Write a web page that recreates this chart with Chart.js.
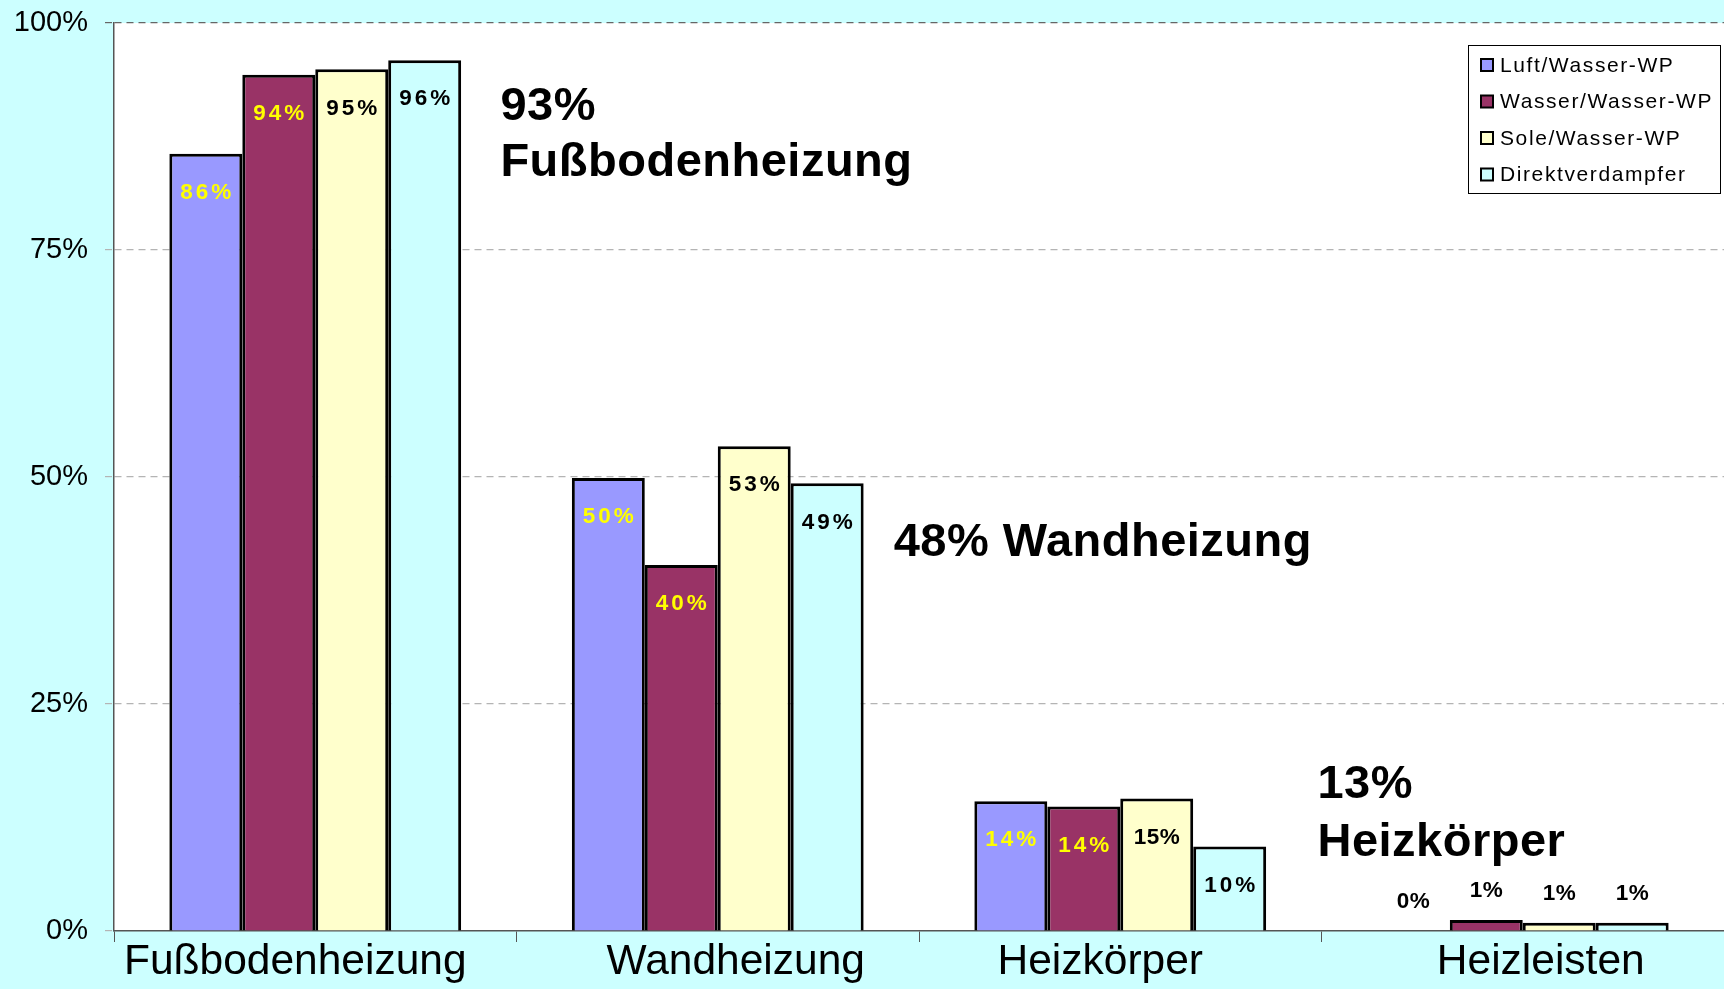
<!DOCTYPE html>
<html>
<head>
<meta charset="utf-8">
<title>Wärmeverteilsysteme</title>
<script src="https://cdn.jsdelivr.net/npm/chart.js@4.4.1/dist/chart.umd.min.js"></script>
<style>
html, body { margin: 0; padding: 0; background: #ccffff; }
canvas { display: block; }
</style>
</head>
<body>
<canvas id="myChart" width="1724" height="989"></canvas>
<script>
// data
const categories = ['Fußbodenheizung', 'Wandheizung', 'Heizkörper', 'Heizleisten'];
const seriesNames = ['Luft/Wasser-WP', 'Wasser/Wasser-WP', 'Sole/Wasser-WP', 'Direktverdampfer'];
const luftWasser   = [85.6, 49.9, 14.3, 0];
const wasserWasser = [94.3, 40.3, 13.7, 1.2];
const soleWasser   = [94.9, 53.4, 14.6, 0.9];
const direkt       = [95.9, 49.3, 9.3, 0.9];
const luftLabels   = ['86%', '50%', '14%', '0%'];
const wasserLabels = ['94%', '40%', '14%', '1%'];
const soleLabels   = ['95%', '53%', '15%', '1%'];
const direktLabels = ['96%', '49%', '10%', '1%'];
const yTicks = [0, 25, 50, 75, 100];

// summary notes: text lines and the value they sit at
const noteTexts = [['93%', 'Fußbodenheizung'], ['48% Wandheizung'], ['13%', 'Heizkörper']];
const noteValues = [[90.7, 84.6], [42.7], [16.1, 9.7]];
const noteCats = [0.46, 1.437, 2.49];
// category labels sit a little off centre in the original
const xLabelShift = [-20, 18, -20, 18];

const barColors = ['#9999ff', '#993366', '#ffffcc', '#ccffff'];
const labelColors = ['#ffff00', '#ffff00', '#000000', '#000000'];
const barLabels = [luftLabels, wasserLabels, soleLabels, direktLabels];
const FONT = '"Liberation Sans", Arial, sans-serif';

const backdrop = {
  id: 'backdrop',
  beforeDraw(chart) {
    const {ctx, chartArea: a} = chart;
    ctx.save();
    ctx.fillStyle = '#ccffff';
    ctx.fillRect(0, 0, chart.width, chart.height);
    ctx.fillStyle = '#ffffff';
    ctx.fillRect(a.left, a.top, a.right - a.left, a.bottom - a.top);
    ctx.restore();
  }
};

const valueLabels = {
  id: 'valueLabels',
  afterDatasetsDraw(chart) {
    const ctx = chart.ctx;
    ctx.save();
    ctx.font = 'bold 22.5px ' + FONT;
    ctx.textAlign = 'center';
    ctx.textBaseline = 'middle';
    chart.data.datasets.forEach((ds, i) => {
      chart.getDatasetMeta(i).data.forEach((bar, j) => {
        const v = ds.data[j];
        const inside = v >= 5;
        const txt = barLabels[i][j];
        const sp = txt.length > 2 && txt !== '15%' ? 3 : 0.5;
        ctx.letterSpacing = sp + 'px';
        ctx.fillStyle = inside ? labelColors[i] : '#000';
        const y = inside ? bar.y + 39 : bar.y - 29;
        ctx.fillText(txt, bar.x + sp / 2, y);
      });
    });
    ctx.restore();
  }
};

const notes = {
  id: 'notes',
  afterDraw(chart) {
    const ctx = chart.ctx;
    const xs = chart.scales.x, ys = chart.scales.y;
    ctx.save();
    ctx.font = 'bold 47px ' + FONT;
    ctx.letterSpacing = '0.5px';
    ctx.fillStyle = '#000';
    ctx.textAlign = 'left';
    ctx.textBaseline = 'middle';
    noteTexts.forEach((lines, i) => {
      const x = xs.getPixelForValue(noteCats[i]);
      lines.forEach((t, k) => ctx.fillText(t, x, ys.getPixelForValue(noteValues[i][k])));
    });
    ctx.restore();
  }
};

const catLabels = {
  id: 'catLabels',
  afterDraw(chart) {
    const ctx = chart.ctx;
    const xs = chart.scales.x;
    ctx.save();
    ctx.font = '42.5px ' + FONT;
    ctx.fillStyle = '#000';
    ctx.textAlign = 'center';
    ctx.textBaseline = 'middle';
    chart.data.labels.forEach((lab, i) => {
      ctx.fillText(lab, xs.getPixelForValue(i) + xLabelShift[i], xs.bottom - 27);
    });
    ctx.restore();
  }
};

const boxLegend = {
  id: 'boxLegend',
  afterDraw(chart) {
    const ctx = chart.ctx;
    const a = chart.chartArea;
    const w = 252, h = 148;
    const left = a.right - w - 4, top = a.top + 22;
    ctx.save();
    ctx.fillStyle = '#fff';
    ctx.fillRect(left, top, w, h);
    ctx.strokeStyle = '#000';
    ctx.lineWidth = 1;
    ctx.strokeRect(left + 0.5, top + 0.5, w, h);
    ctx.font = '21px ' + FONT;
    ctx.letterSpacing = '1.6px';
    ctx.textBaseline = 'middle';
    chart.data.datasets.forEach((ds, i) => {
      const cy = top + 20 + i * 36.5;
      ctx.fillStyle = ds.backgroundColor;
      ctx.fillRect(left + 13, cy - 6, 12, 12);
      ctx.lineWidth = 2;
      ctx.strokeRect(left + 13, cy - 6, 12, 12);
      ctx.fillStyle = '#000';
      ctx.fillText(ds.label, left + 32, cy + 1);
    });
    ctx.restore();
  }
};

const seriesData = [luftWasser, wasserWasser, soleWasser, direkt];

new Chart('myChart', {
  type: 'bar',
  data: {
    labels: categories,
    datasets: seriesNames.map((name, i) => ({
      label: name,
      data: seriesData[i],
      backgroundColor: barColors[i],
      borderColor: '#000',
      borderWidth: 3,
      barPercentage: 1,
      categoryPercentage: 0.725
    }))
  },
  options: {
    responsive: false,
    animation: false,
    devicePixelRatio: 1,
    layout: { padding: { top: 23, right: 0, left: 0, bottom: 0 } },
    plugins: {
      legend: { display: false },
      tooltip: { enabled: false }
    },
    scales: {
      x: {
        afterFit(scale) { scale.height = 58; scale.paddingLeft = 0; scale.paddingRight = 0; },
        grid: {
          drawOnChartArea: false,
          drawTicks: true,
          tickLength: 11,
          color: '#555',
          tickColor: '#555'
        },
        border: { display: true, color: '#555', width: 1.5 },
        ticks: { display: false }
      },
      y: {
        min: 0,
        max: 100,
        afterFit(scale) { scale.width = 114; scale.paddingTop = 0; scale.paddingBottom = 0; },
        afterBuildTicks(scale) { scale.ticks = yTicks.map(v => ({value: v})); },
        grid: {
          color: ctx => ctx.tick && ctx.tick.value === 100 ? '#666' : (ctx.tick && ctx.tick.value === 0 ? 'rgba(0,0,0,0)' : '#b4b4b4'),
          tickColor: ctx => ctx.tick && ctx.tick.value === 100 ? '#666' : '#b4b4b4',
          lineWidth: 1.2,
          tickLength: 9,
          tickBorderDash: [7, 5]
        },
        border: { display: true, color: '#555', width: 1.5, dash: [7, 5] },
        ticks: {
          color: '#000',
          padding: 17,
          font: { family: FONT, size: 29 },
          callback: v => v + '%'
        }
      }
    }
  },
  plugins: [backdrop, valueLabels, notes, catLabels, boxLegend]
});
</script>
</body>
</html>
